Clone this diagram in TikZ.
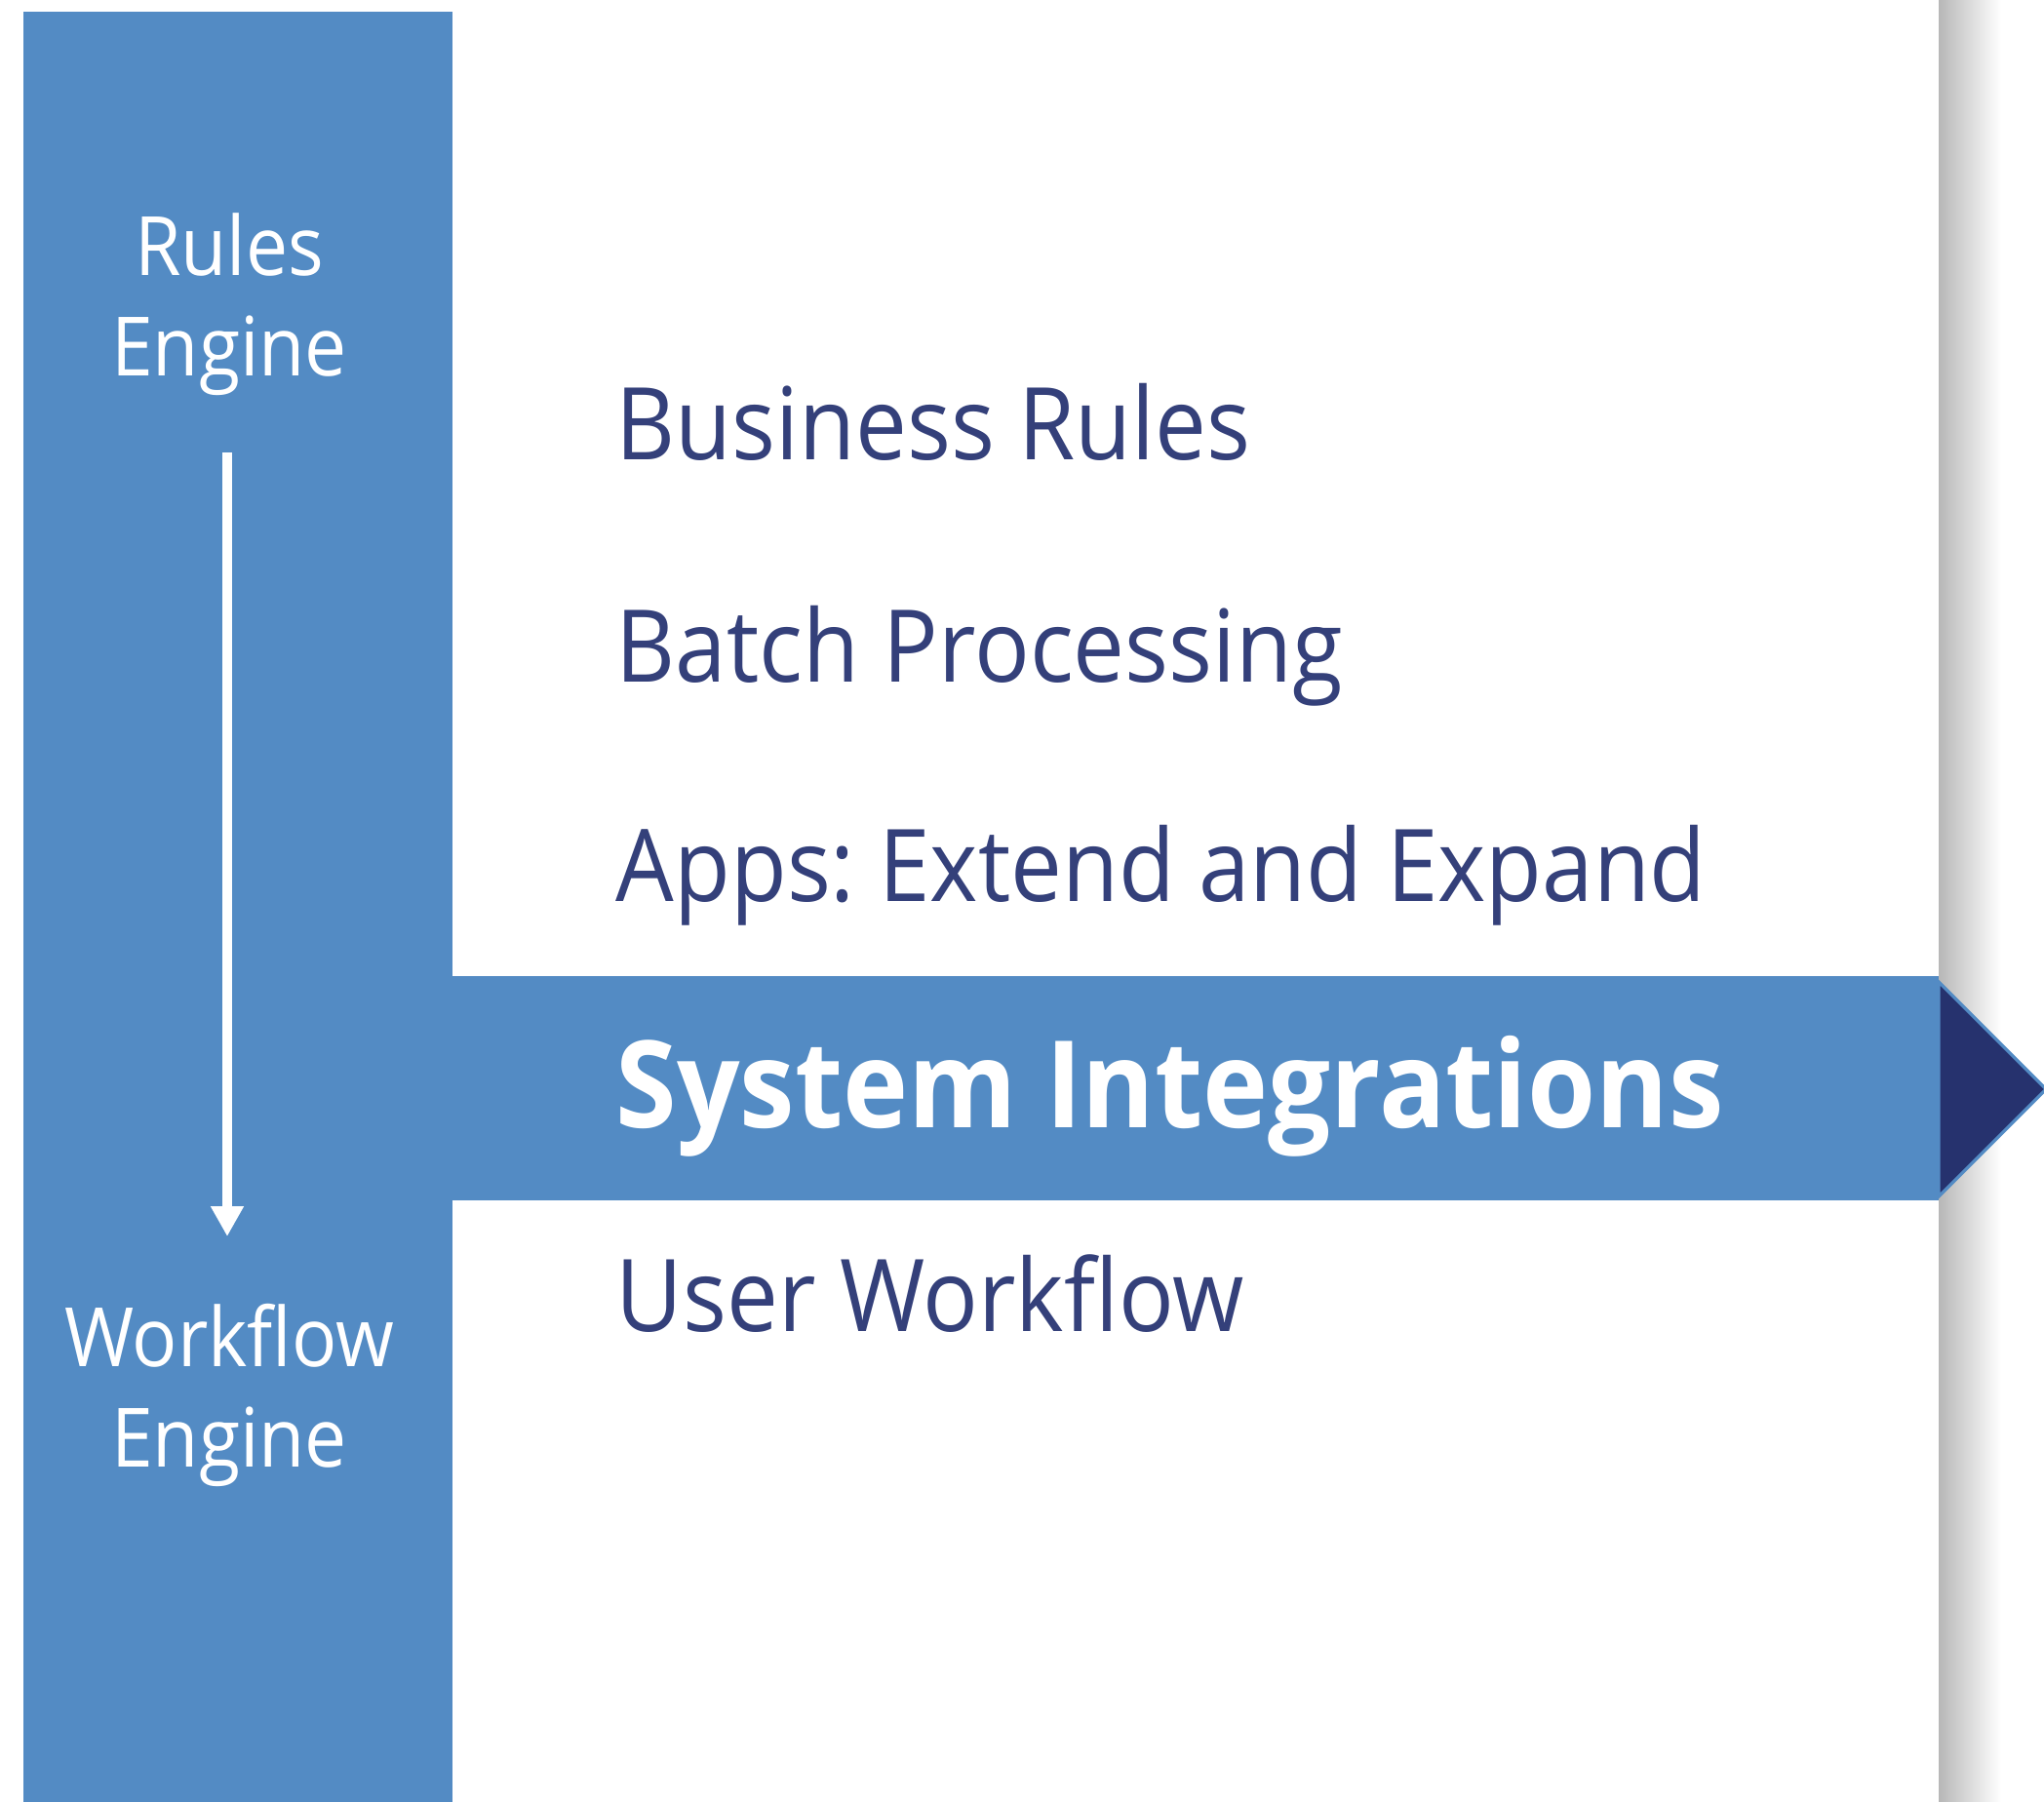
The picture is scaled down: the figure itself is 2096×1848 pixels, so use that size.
\documentclass[tikz,border=0pt]{standalone}
\usepackage{fontspec}
\setmainfont{Open Sans}[Ligatures=NoCommon,FakeStretch=0.915]
\frenchspacing
\usetikzlibrary{arrows.meta}
\definecolor{barblue}{RGB}{83,139,196}
\definecolor{textnavy}{RGB}{52,64,122}
\definecolor{tipnavy}{RGB}{38,50,110}
\begin{document}
\begin{tikzpicture}
  [x=.25pt,y=-.25pt,every node/.style={inner sep=0pt}]
  \tikzstyle{item} = [anchor=base west,text=textnavy,font=\fontsize{25.75}{31}\selectfont]
  \tikzstyle{engine} = [anchor=base,align=center,text=white,font=\fontsize{21}{25.75}\selectfont]
  \useasboundingbox (0,0) rectangle (2096,1848);
  % shadow at the right edge of the panel
  \shade[left color=black!28,right color=white] (1988,0) rectangle (2052,1848);
  \fill[barblue] (24,12) rectangle (464,1848);
  \fill[barblue] (464,1001) rectangle (1988,1231);
  \filldraw[fill=tipnavy,draw=barblue,line width=.8pt] (1988,1007) -- (2098,1117) -- (1988,1227) -- cycle;
  \node[engine] (rules) at (235,386) {Rules\\Engine};
  \node[engine] (workflow) at (235,1504) {Workflow\\Engine};
  \coordinate (arrowtop) at (233,464);
  \coordinate (arrowtip) at (233,1268);
  \draw[white,line width=2.5pt,-{Triangle[width=8pt,length=7.75pt]}] (arrowtop) -- (arrowtip);
\foreach \name /\y /\label in {business/472/Business Rules,batch/700/Batch Processing,apps/925/Apps: Extend and Expand,user/1365/User Workflow}
   \node[item] (\name) at (631,\y) {\label};
  \node[item,text=white,font=\bfseries\fontsize{31}{37}\selectfont] (system) at (631,1156) {System Integrations};
\end{tikzpicture}
\end{document}
